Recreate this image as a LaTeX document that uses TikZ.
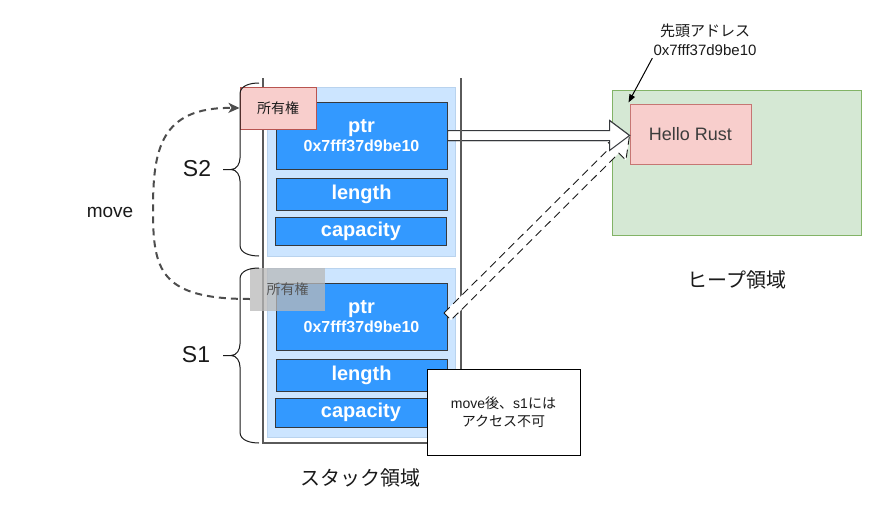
\documentclass[tikz,border=0pt]{standalone}
\usepackage{fontspec}
\setmainfont{Liberation Sans}
\newfontfamily\cjk{Noto Sans CJK JP}
\usetikzlibrary{arrows.meta,calc}
\definecolor{fieldblue}{HTML}{3399FF}
\definecolor{fieldD}{HTML}{36393D}
\definecolor{contF}{HTML}{CCE5FF}
\definecolor{contB}{HTML}{B9D3EE}
\definecolor{pinkF}{HTML}{F8CECC}
\definecolor{pinkD}{HTML}{B85450}
\definecolor{greenF}{HTML}{D5E8D4}
\definecolor{greenD}{HTML}{82B366}
\definecolor{stackC}{HTML}{5A5A5A}
\definecolor{moveC}{HTML}{4D4D4D}
\definecolor{txt}{HTML}{1A1A1A}
\definecolor{grayT}{HTML}{555555}
\newcommand\fs[2]{\fontsize{#1}{#2}\selectfont}
\newcommand\flexarr[3][]{%
  \coordinate (fa-h) at ($(#3)!20pt!(#2)$);
  \draw[#1] ($(#2)!5pt!90:(#3)$) -- ($(fa-h)!5pt!90:(#3)$) -- ($(fa-h)!15pt!90:(#3)$) -- (#3)
    -- ($(fa-h)!15pt!-90:(#3)$) -- ($(fa-h)!5pt!-90:(#3)$) -- ($(#2)!5pt!-90:(#3)$) -- cycle;}
\begin{document}
\begin{tikzpicture}[x=1pt,y=-1pt,
  container/.style={draw=contB, fill=contF, line width=1pt, minimum width=188pt, minimum height=169pt, inner sep=0},
  field/.style={draw=fieldD, fill=fieldblue, line width=1pt, text=white, font=\bfseries\fs{20}{24}, minimum width=171pt, inner sep=0, align=center},
  owner/.style={draw=pinkD, fill=pinkF, line width=1pt, font=\cjk\fs{14}{17}, text=txt, minimum width=76pt, minimum height=42pt, inner sep=0},
  ownergray/.style={fill=gray!55, fill opacity=0.75, text opacity=1, font=\cjk\fs{14}{17}, text=grayT, minimum width=75pt, minimum height=43pt, inner sep=0},
  bracestyle/.style={draw=txt, line width=1pt},
  stackline/.style={draw=stackC, line width=1.8pt},
  movearrow/.style={draw=moveC, line width=2pt, dash pattern=on 7pt off 5pt, -{Stealth[length=11pt,width=10pt,inset=3pt]}},
  bigarrow/.style={draw=fieldD, fill=white, line width=1pt, line join=miter},
  dasharrow/.style={draw=txt, fill=white, line width=0.9pt, dash pattern=on 8pt off 5pt},
  label/.style={text=txt, inner sep=0}
]
\useasboundingbox (0,0) rectangle (881,514);
\fill[white] (0,0) rectangle (881,514);

% stack containers and fields
\node[container] (c2) at (361,171.5) {};
\node[container] (c1) at (361,352.5) {};
\node[field, minimum height=67pt] (ptr2) at (361.5,135.5) {\raisebox{-2pt}{ptr}\\[-3pt]{\fs{16}{19}0x7fff37d9be10}};
\node[field, minimum height=32pt] (len2) at (361.5,194) {\raisebox{-1.5pt}{length}};
\node[field, minimum height=28pt] (cap2) at (361,231) {\raisebox{-1.5pt}{capacity}};
\node[field, minimum height=67pt] (ptr1) at (361.5,316.5) {\raisebox{-2pt}{ptr}\\[-3pt]{\fs{16}{19}0x7fff37d9be10}};
\node[field, minimum height=32pt] (len1) at (361.5,375) {\raisebox{-1.5pt}{length}};
\node[field, minimum height=29pt] (cap1) at (361,412.5) {\raisebox{-1.5pt}{capacity}};

% heap
\node[draw=greenD, fill=greenF, line width=1pt, minimum width=249pt, minimum height=145pt, inner sep=0] (heap) at (736.5,162.5) {};
\node[draw=pinkD!80, fill=pinkF, line width=1pt, minimum width=121pt, minimum height=60pt, inner sep=0, font=\fs{18}{22}, text=txt!85] (hello) at (690.5,134) {Hello Rust};
\coordinate (tip) at (hello.west |- ptr2.east);

% solid arrow (below stack line)
\flexarr[bigarrow]{ptr2.east}{tip}

% stack lines
\coordinate (sl1) at (263,78);
\coordinate (sl2) at (263,443);
\coordinate (sl3) at (461,443);
\coordinate (sl4) at (461,78);
\draw[stackline] (sl1) -- (sl2) -- (sl3) -- (sl4);

% dashed arrow from s1 ptr (over stack line, under solid arrow)
\flexarr[dasharrow]{ptr1.east}{tip}
\flexarr[bigarrow]{ptr2.east}{tip}
\draw[stackline] ($(sl4)+(0,47)$) -- ($(sl4)+(0,70)$);

% ownership boxes
\node[owner] (own2) at (278,108) {所有権};
\node[ownergray] (own1) at (287.5,289.5) {所有権};

% braces
\draw[bracestyle] (259,83) to[out=180,in=90] (240,94) -- (240,158) to[out=270,in=0] (231,169.5) -- (223,169.5)
  (231,169.5) to[out=0,in=90] (240,181) -- (240,245) to[out=270,in=180] (259,256);
\draw[bracestyle] (259,268) to[out=180,in=90] (240,279) -- (240,344) to[out=270,in=0] (231,355.5) -- (223,355.5)
  (231,355.5) to[out=0,in=90] (240,367) -- (240,432) to[out=270,in=180] (259,443);
\node[label, font=\fs{23}{27}] (s2) at (197,169) {S2};
\node[label, font=\fs{23}{27}] (s1) at (196,355) {S1};

% move arrow
\coordinate (mvstart) at ($(own1.west)+(0,9.5)$);
\draw[movearrow] (mvstart) .. controls (160,299) and (153,270) .. (153,210)
  .. controls (153,150) and (160,107) .. (own2.west);
\node[label, font=\fs{19}{23}] (mv) at (110,212) {move};

% note
\node[draw=black, fill=white, line width=1pt, minimum width=153pt, minimum height=86pt, inner sep=0, align=center, font=\fs{14}{18}, text=txt] (note) at (503.5,412)
  {move{\cjk 後、}s1{\cjk には}\\{\cjk アクセス不可}};

% address label
\node[label, align=center, font=\fs{15}{19}] (addr) at (705,40) {{\cjk 先頭アドレス}\\0x7fff37d9be10};
\draw[line width=1pt, draw=black, -{Triangle[length=8pt,width=6pt]}] ($(addr.south west)+(-1,2)$) -- ($(hello.north west)+(-1,-1)$);

% area labels
\node[label, font=\cjk\fs{20}{24}] (heaplbl) at (737,280) {ヒープ領域};
\node[label, font=\cjk\fs{20}{24}] (stacklbl) at (360,478) {スタック領域};
\end{tikzpicture}
\end{document}
